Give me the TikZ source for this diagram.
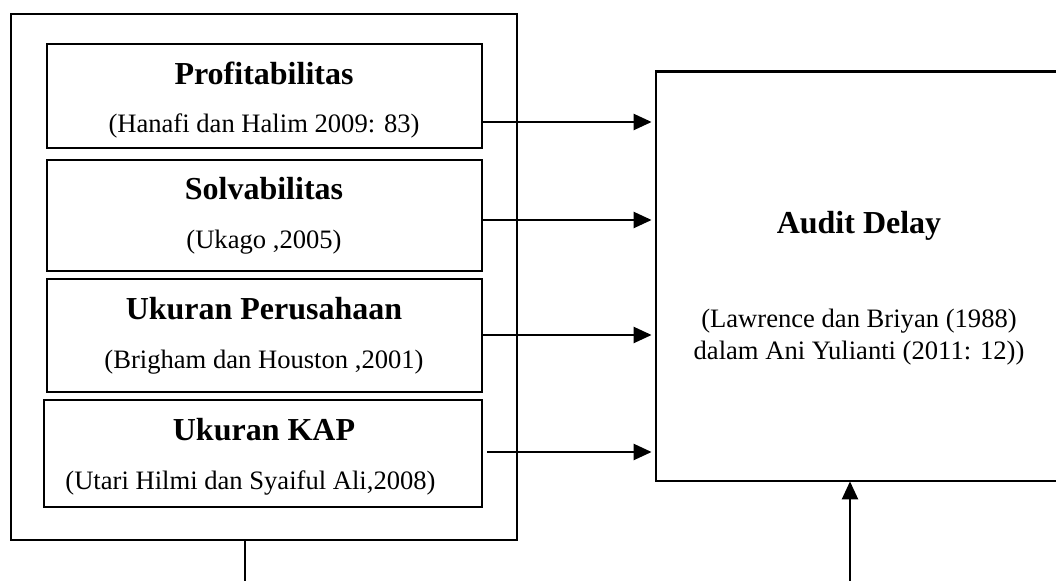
\documentclass[tikz,border=0pt]{standalone}
\usepackage{fontspec}
\setmainfont{Liberation Serif}
\usetikzlibrary{arrows.meta}

\begin{document}
\begin{tikzpicture}[x=0.5pt,y=-0.5pt,
  box/.style={draw,line width=1.1pt,inner sep=0pt},
  ttl/.style={anchor=base,font=\fontsize{16}{19}\selectfont\bfseries},
  cit/.style={anchor=base,font=\fontsize{13.3}{16}\selectfont},
  arr/.style={line width=1.2pt,-{Triangle[length=9pt,width=8pt]}}]
  \useasboundingbox (0,0) rectangle (1056,581);
  \node[box,minimum width=253pt,minimum height=263pt] (outer) at (264,277) {};
  \node[box,minimum width=217.7pt,minimum height=52pt] (prof) at (264.3,96) {};
  \node[box,minimum width=217.7pt,minimum height=55.5pt] (solv) at (264.3,215.5) {};
  \node[box,minimum width=217.7pt,minimum height=56.5pt] (size) at (264.3,335.5) {};
  \node[box,minimum width=218.85pt,minimum height=53.5pt] (kap) at (263.15,453.5) {};
  \node[ttl] (tprof) at (264,85) {Profitabilitas};
  \node[cit] (cprof) at (264,133) {(Hanafi dan Halim 2009: 83)};
  \node[ttl] (tsolv) at (264,200) {Solvabilitas};
  \node[cit] (csolv) at (264,249) {(Ukago ,2005)};
  \node[ttl] (tsize) at (264,320) {Ukuran Perusahaan};
  \node[cit] (csize) at (264,369) {(Brigham dan Houston ,2001)};
  \node[ttl] (tkap) at (264,441) {Ukuran KAP};
  \node[cit] (ckap) at (250.5,490) {(Utari Hilmi dan Syaiful Ali,2008)};
  \node[minimum width=200pt,minimum height=204.5pt,inner sep=0pt] (delay) at (856,276.5) {};
  \draw[line width=1.1pt] (delay.north east) -- (delay.north west) -- (delay.south west) -- (delay.south east);
  \node[ttl] (tdelay) at (859,234) {Audit Delay};
  \node[cit] (cdelay1) at (859,328) {(Lawrence dan Briyan (1988)};
  \node[cit] (cdelay2) at (859,360) {dalam Ani Yulianti (2011: 12))};
  \draw[arr] (prof.east |- 0,122) -- ([xshift=-2pt]delay.west |- 0,122);
  \draw[arr] (solv.east |- 0,220) -- ([xshift=-2pt]delay.west |- 0,220);
  \draw[arr] (size.east |- 0,335) -- ([xshift=-2pt]delay.west |- 0,335);
  \draw[arr] ([xshift=2pt]kap.east |- 0,452) -- ([xshift=-2pt]delay.west |- 0,452);
  \coordinate (lend) at (245,581);
  \coordinate (aend) at (850,581);
  \draw[line width=1.2pt] (outer.south -| lend) -- (lend);
  \draw[arr] (aend) -- (delay.south -| aend);
\end{tikzpicture}
\end{document}
